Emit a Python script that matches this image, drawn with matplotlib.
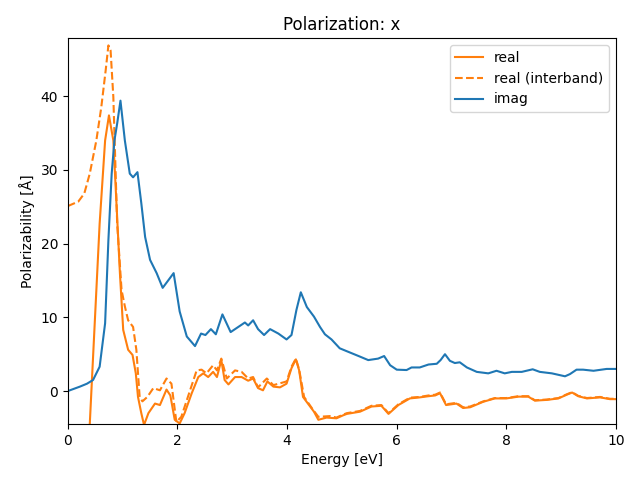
import matplotlib
matplotlib.use('Agg')
import matplotlib.pyplot as plt

# imaginary part
imag_e = [0.0, 0.22, 0.35, 0.46, 0.58, 0.68, 0.74, 0.80, 0.85, 0.90, 0.96, 1.04, 1.13,
          1.19, 1.27, 1.34, 1.41, 1.50, 1.62, 1.73, 1.83, 1.93, 2.04, 2.17, 2.32,
          2.43, 2.51, 2.61, 2.70, 2.82, 2.97, 3.11, 3.23, 3.29, 3.38, 3.47, 3.58,
          3.69, 3.84, 3.99, 4.08, 4.17, 4.25, 4.36, 4.49, 4.60, 4.69, 4.81, 4.96,
          5.09, 5.32, 5.48, 5.66, 5.77, 5.88, 6.0, 6.18, 6.27, 6.42, 6.58, 6.73,
          6.80, 6.88, 6.97, 7.06, 7.15, 7.28, 7.46, 7.67, 7.82, 7.97, 8.1, 8.28,
          8.48, 8.61, 8.83, 9.07, 9.16, 9.28, 9.40, 9.59, 9.83, 10.0]
imag_v = [0.0, 0.6, 1.0, 1.5, 3.3, 9.2, 20.5, 29.5, 34.0, 36.3, 39.4, 34.0, 29.5,
          29.0, 29.7, 25.5, 20.9, 17.8, 16.0, 14.0, 15.0, 16.0, 10.8, 7.4, 6.1,
          7.8, 7.6, 8.4, 7.7, 10.4, 8.0, 8.7, 9.3, 8.9, 9.6, 8.4, 7.6,
          8.4, 7.8, 7.0, 7.6, 11.0, 13.4, 11.4, 10.1, 8.7, 7.7, 7.0, 5.8,
          5.4, 4.7, 4.2, 4.4, 4.75, 3.5, 2.9, 2.85, 3.2, 3.2, 3.6, 3.7,
          4.2, 5.0, 4.1, 3.8, 3.9, 3.2, 2.6, 2.4, 2.75, 2.4, 2.6, 2.6,
          2.95, 2.6, 2.4, 2.0, 2.3, 2.9, 2.9, 2.75, 3.0, 3.0]

# real part (total)
real_e = [0.02, 0.1, 0.2, 0.3, 0.40, 0.46, 0.58, 0.68, 0.75, 0.83, 0.89, 0.95, 1.01,
          1.10, 1.18, 1.24, 1.28, 1.34, 1.39, 1.47, 1.59, 1.68, 1.80, 1.87,
          1.95, 2.04, 2.13, 2.26, 2.38, 2.47, 2.56, 2.65, 2.72, 2.80, 2.86, 2.93,
          3.05, 3.17, 3.29, 3.38, 3.47, 3.56, 3.64, 3.75, 3.87, 3.99, 4.08, 4.16,
          4.22, 4.29, 4.42, 4.49, 4.57, 4.72, 4.90, 5.02, 5.09, 5.33, 5.54, 5.72,
          5.85, 6.03, 6.24, 6.42, 6.58, 6.70, 6.79, 6.90, 7.09, 7.21, 7.34, 7.58,
          7.79, 8.0, 8.22, 8.40, 8.52, 8.74, 8.95, 9.10, 9.20, 9.31, 9.47, 9.71,
          9.89, 10.0]
real_v = [-300.0, -90.0, -45.0, -20.0, -4.5, 4.6, 22.7, 34.0, 37.4, 34.0, 25.0, 16.0, 8.3,
          5.6, 4.9, 2.4, -0.8, -3.0, -4.6, -3.0, -1.7, -1.9, 0.2, -0.6,
          -3.9, -4.4, -3.0, -0.3, 1.9, 2.4, 1.9, 2.6, 1.9, 4.2, 1.5, 0.9,
          1.9, 1.9, 1.4, 1.7, 0.4, 0.1, 1.3, 0.6, 0.5, 1.0, 3.1, 4.3,
          2.8, -0.8, -2.1, -2.8, -3.9, -3.6, -3.7, -3.3, -3.1, -2.8, -2.1, -2.0,
          -3.1, -1.9, -1.0, -0.86, -0.7, -0.6, -0.3, -1.9, -1.7, -2.3, -2.2, -1.45,
          -1.0, -1.0, -0.76, -0.76, -1.3, -1.2, -1.0, -0.5, -0.2, -0.7, -1.0, -0.86,
          -1.1, -1.1]

# real part (interband only)
inter_e = [0.0, 0.19, 0.30, 0.40, 0.52, 0.61, 0.69, 0.74, 0.78, 0.83, 0.90,
           0.98, 1.04, 1.10, 1.19, 1.25, 1.31, 1.36, 1.45, 1.56, 1.68, 1.80, 1.89,
           1.98, 2.07, 2.23, 2.35, 2.44, 2.53, 2.65, 2.72, 2.80, 2.90, 3.05, 3.17,
           3.29, 3.38, 3.47, 3.63, 3.75, 3.99, 4.08, 4.16, 4.22, 4.31, 4.45, 4.57,
           4.78, 4.90, 5.02, 5.09, 5.33, 5.54, 5.72, 5.85, 6.03, 6.24, 6.42, 6.58,
           6.70, 6.79, 6.90, 7.09, 7.21, 7.34, 7.58, 7.79, 8.0, 8.22, 8.40, 8.52,
           8.74, 8.95, 9.10, 9.20, 9.31, 9.47, 9.71, 9.89, 10.0]
inter_v = [25.1, 25.7, 26.8, 29.5, 34.0, 38.5, 43.5, 46.9, 46.2, 39.9, 22.7,
           13.7, 11.5, 9.6, 8.7, 5.6, -0.8, -1.4, -0.8, 0.4, 0.1, 1.7, 1.0,
           -4.2, -3.5, 0.1, 2.8, 2.9, 2.4, 3.5, 2.8, 4.4, 1.7, 2.8, 2.6,
           1.7, 1.9, 0.5, 1.7, 0.8, 1.3, 3.3, 4.4, 2.9, -0.8, -2.3, -3.5,
           -3.4, -3.6, -3.2, -3.0, -2.7, -2.0, -1.9, -3.0, -1.8, -0.9, -0.8, -0.6,
           -0.5, -0.2, -1.8, -1.6, -2.2, -2.1, -1.4, -0.95, -0.95, -0.7, -0.7, -1.25,
           -1.15, -0.95, -0.45, -0.15, -0.65, -0.95, -0.8, -1.05, -1.05]

fig, ax = plt.subplots(figsize=(6.4, 4.8), dpi=100)
ax.plot(real_e, real_v, color='C1', label='real')
ax.plot(inter_e, inter_v, color='C1', linestyle='--', label='real (interband)')
ax.plot(imag_e, imag_v, color='C0', label='imag')
ax.set_xlim(0, 10)
ax.set_ylim(-4.47, 47.9)
ax.set_xlabel('Energy [eV]')
ax.set_ylabel('Polarizability [Å]')
ax.set_title('Polarization: x')
ax.legend(loc='upper right')
fig.subplots_adjust(left=0.106, right=0.9625, top=0.9208, bottom=0.1167)
fig.savefig('out.png')
